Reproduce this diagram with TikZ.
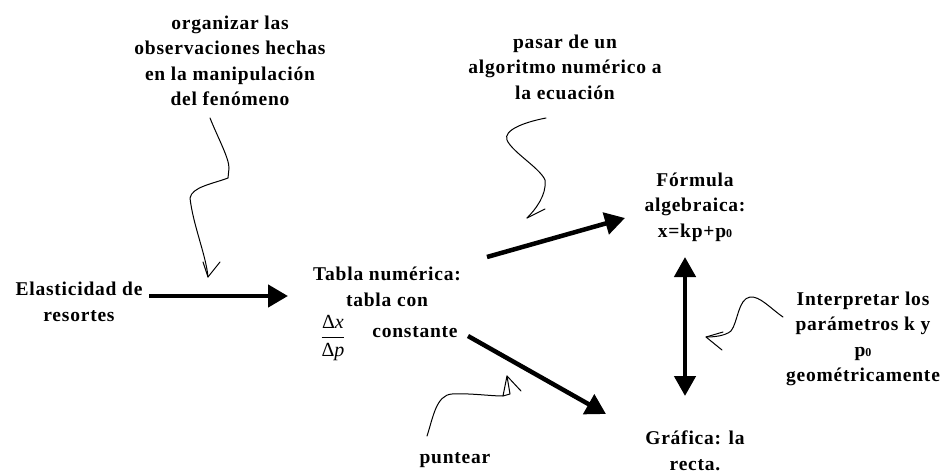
\documentclass[tikz,border=0pt]{standalone}
\usepackage{fontspec}
\setmainfont{Liberation Serif}
\newfontfamily\lblfont[LetterSpace=4]{Liberation Serif}
\usetikzlibrary{arrows.meta}
\tikzset{
  lbl/.style={font=\lblfont\bfseries\fontsize{19.5}{25.5}\selectfont, align=center, inner sep=0pt},
  bigarrow/.style={line width=4.5pt, -{Triangle[length=20pt,width=22pt]}},
  bigdouble/.style={line width=4.5pt, {Triangle[length=20pt,width=21pt]}-{Triangle[length=20pt,width=21pt]}},
  squig/.style={line width=1pt, line join=round, line cap=round}
}
\newcommand{\subz}{{\fontsize{12}{12}\selectfont 0}}
\begin{document}
\begin{tikzpicture}[x=1pt,y=-1pt]
\useasboundingbox (0,0) rectangle (950,474);
% text nodes
\node[lbl] (org) at (230,61) {organizar las\\observaciones hechas\\en la manipulación\\del fenómeno};
\node[lbl] (pasar) at (565,67) {pasar de un\\algoritmo numérico a\\la ecuación};
\node[lbl] (formula) at (695,207) {Fórmula\\algebraica:\\x=kp+p\subz};
\node[lbl] (elast) at (79,302) {Elasticidad de\\resortes};
\node[lbl] (tabla) at (387,287) {Tabla numérica:\\tabla con};
\node[inner sep=0pt, font=\fontsize{20}{24}\selectfont] (frac) at (333,338) {$\displaystyle\frac{\mbox{Δ\itshape x}}{\mbox{Δ\itshape p}}$};
\node[lbl] (const) at (415,332) {constante};
\node[lbl] (interp) at (863,339) {Interpretar los\\parámetros k y\\p\subz\\geométricamente};
\node[lbl] (grafica) at (695,451) {Gráfica: la\\recta.};
\node[lbl] (puntear) at (455,460) {puntear};
% connector end points
\coordinate (a1s) at (149,296);
\coordinate (a1e) at (288,296);
\coordinate (a2s) at (487,257);
\coordinate (a2e) at (625,218);
\coordinate (a3s) at (468,336);
\coordinate (a3e) at (606,414);
\coordinate (dtop) at (685,257);
\coordinate (dbot) at (685,396);
% main arrows
\draw[bigarrow] (a1s) -- (a1e);
\draw[bigarrow] (a2s) -- (a2e);
\draw[bigarrow] (a3s) -- (a3e);
\draw[bigdouble] (dbot) -- (dtop);
% squiggle 1
\coordinate (s1a) at (210,118);
\coordinate (s1t) at (208,277);
\draw[squig] (s1a) .. controls (218,138) and (229,158) .. (229,168)
  -- (228,178) .. controls (212,184) and (192,187) .. (190,198)
  .. controls (193,225) and (206,255) .. (s1t);
\draw[squig] (203,262) -- (s1t) -- (220,262);
% squiggle 2
\coordinate (s2a) at (546,118);
\coordinate (s2t) at (527,218);
\draw[squig] (s2a) .. controls (525,122) and (503,130) .. (507,140)
  .. controls (512,152) and (540,168) .. (545,180)
  .. controls (547,195) and (535,210) .. (s2t);
\draw[squig] (s2t) -- (545,209);
% squiggle 3
\coordinate (s3a) at (783,317);
\coordinate (s3t) at (706,337);
\draw[squig] (s3a) .. controls (770,308) and (760,296) .. (750,297)
  .. controls (738,299) and (738,322) .. (731,331)
  .. controls (725,336) and (714,337) .. (s3t);
\draw[squig] (723,332) -- (s3t) -- (722,350);
% squiggle 4
\coordinate (s4a) at (427,436);
\coordinate (s4t) at (507,376);
\draw[squig] (s4a) .. controls (433,418) and (436,395) .. (452,394)
  .. controls (470,393) and (490,396) .. (503,396) -- (s4t) -- (510,394) -- (503,396);
\draw[squig] (s4t) -- (521,391);
\end{tikzpicture}
\end{document}
